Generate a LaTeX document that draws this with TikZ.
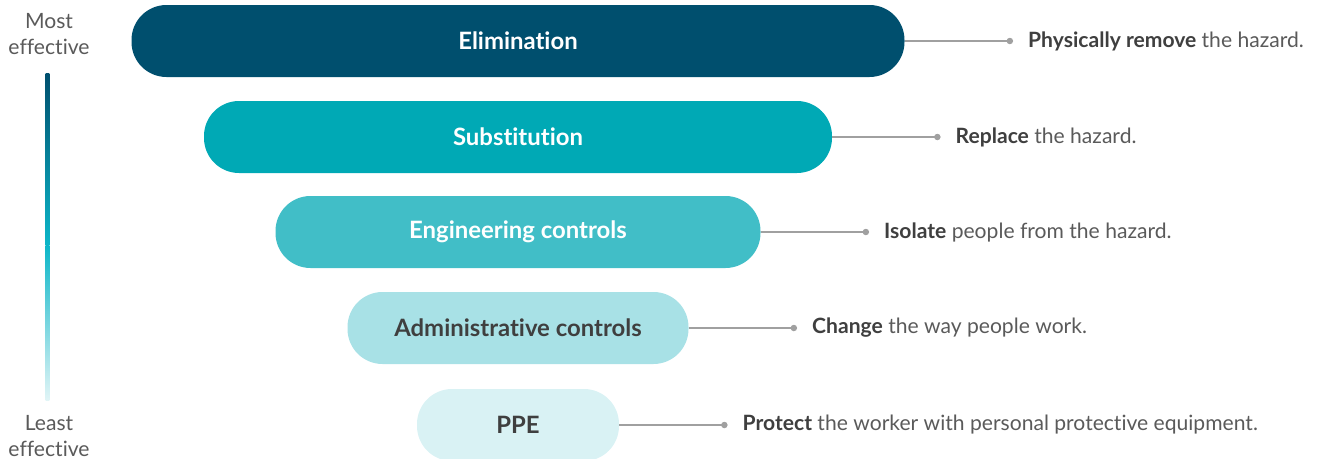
\documentclass[tikz,border=0pt]{standalone}
\usepackage{fontspec}
\setmainfont{Lato}[Ligatures=NoCommon]
\usepackage{tikz}
\usetikzlibrary{positioning, calc}
\usepackage{xcolor}

\definecolor{elimC}{HTML}{004F6E}
\definecolor{substC}{HTML}{00A9B5}
\definecolor{engC}{HTML}{41BEC7}
\definecolor{adminC}{HTML}{A8E1E6}
\definecolor{ppeC}{HTML}{D9F2F4}
\definecolor{txtC}{HTML}{3F3F3F}
\definecolor{greyC}{HTML}{5A5A5A}
\definecolor{lineC}{HTML}{A0A0A0}
\definecolor{midC}{HTML}{0CB6C8}

\tikzset{
  bar/.style={rounded corners=0.7cm, minimum height=1.44cm, inner sep=0pt,
    font=\fontsize{13.6}{16}\selectfont\bfseries},
  conn/.style={draw=lineC, line width=0.7pt},
  desc/.style={anchor=west, inner sep=0pt, text=greyC, font=\fontsize{12}{14}\selectfont},
  side/.style={align=center, text=greyC, font=\fontsize{12}{15.3}\selectfont}
}

\begin{document}
\begin{tikzpicture}
\useasboundingbox (0,0) rectangle (26.34,-9.18);

% Scale on the left
\node[side] (most) at (0.98,-0.68) {Most\\effective};
\node[side] (least) at (0.98,-8.72) {Least\\effective};
\shade[top color=elimC, bottom color=midC] (0.915,-1.46) rectangle (0.985,-4.9);
\shade[top color=midC, bottom color=ppeC!80] (0.915,-4.9) rectangle (0.985,-8.0);

% Bars
\node[bar, fill=elimC, text=white, minimum width=15.46cm] (elim) at (10.36,-0.82) {Elimination};
\node[bar, fill=substC, text=white, minimum width=12.56cm] (subst) at (10.36,-2.74) {Substitution};
\node[bar, fill=engC, text=white, minimum width=9.70cm] (eng) at (10.36,-4.64) {Engineering controls};
\node[bar, fill=adminC, text=txtC, minimum width=6.82cm] (admin) at (10.36,-6.56) {Administrative controls};
\node[bar, fill=ppeC, text=txtC, minimum width=4.04cm] (ppe) at (10.36,-8.50) {PPE};

% Connectors and descriptions
\foreach \b/\t in {elim/{\textbf{\color{txtC}Physically remove} the hazard.},
                   subst/{\textbf{\color{txtC}Replace} the hazard.},
                   eng/{\textbf{\color{txtC}Isolate} people from the hazard.},
                   admin/{\textbf{\color{txtC}Change} the way people work.},
                   ppe/{\textbf{\color{txtC}Protect} the worker with personal protective equipment.}} {
  \coordinate[right=2.1cm of \b.east] (\b-dot);
  \draw[conn] (\b.east) -- (\b-dot);
  \fill[lineC] (\b-dot) circle (0.065);
  \node[desc, right=0.36cm of \b-dot] (\b-txt) {\t};
}
\end{tikzpicture}
\end{document}
